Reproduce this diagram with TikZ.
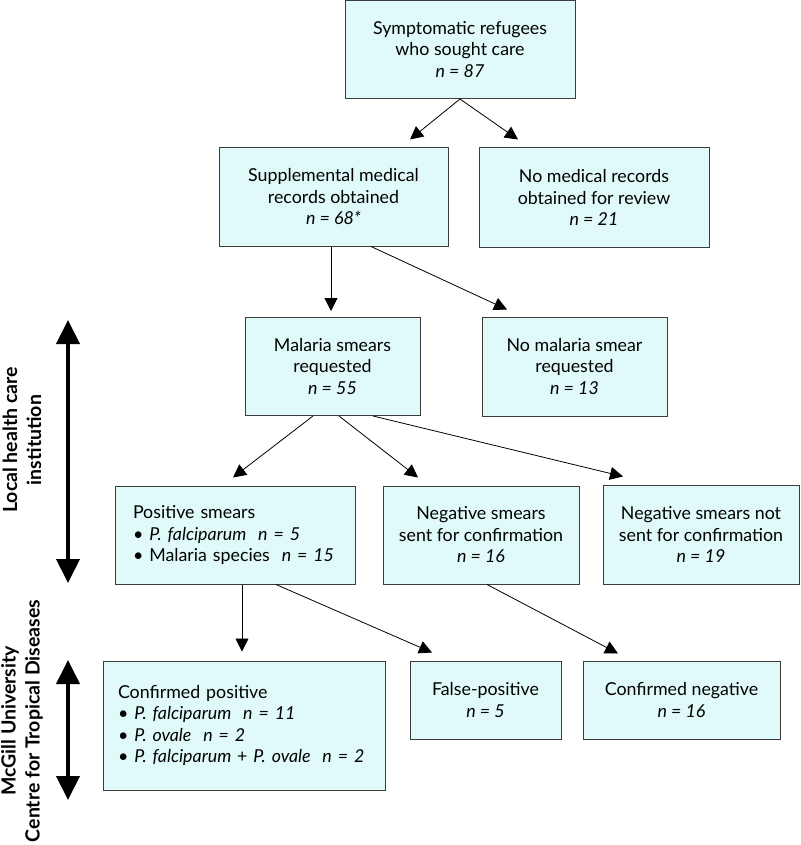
\documentclass[tikz,border=0pt]{standalone}
\usepackage{fontspec}
\setmainfont{Lato}
\usetikzlibrary{arrows.meta}
\definecolor{boxfill}{RGB}{224,250,250}
\definecolor{boxline}{RGB}{60,60,60}
\tikzset{
  box/.style={draw=boxline, fill=boxfill, line width=1pt, align=center, inner sep=0pt,
    font=\fontsize{17.8}{21.5}\selectfont},
  lbox/.style={box, align=left},
  arr/.style={-{Triangle[length=13pt,width=13pt]}, line width=0.8pt, black},
  dbl/.style={{Triangle[length=24pt,width=23pt]}-{Triangle[length=24pt,width=23pt]}, line width=4pt, black},
  side/.style={rotate=90, align=center, font=\fontsize{19.5}{24}\selectfont\bfseries}
}
\newcommand{\nn}[1]{\textit{n~=~#1}}
\begin{document}
\begin{tikzpicture}[x=1pt,y=-1pt]
\useasboundingbox[fill=white] (0,0) rectangle (800,845);

\node[box, minimum width=230pt, minimum height=98pt] (top) at (460,49.5) {Symptomatic refugees\\who sought care\\\nn{87}};
\node[box, minimum width=229pt, minimum height=98pt] (sup) at (333.5,197) {Supplemental medical\\records obtained\\\nn{68*}};
\node[box, minimum width=230pt, minimum height=99pt] (nomed) at (594,197.5) {No medical records\\obtained for review\\\nn{21}};
\node[box, minimum width=175pt, minimum height=98pt] (smears) at (332.5,366.5) {Malaria smears\\requested\\\nn{55}};
\node[box, minimum width=185pt, minimum height=99pt] (nosmear) at (574.5,366.5) {No malaria smear\\requested\\\nn{13}};
\node[lbox, text width=204pt, inner xsep=18pt, minimum height=98pt] (pos) at (235,535) {Positive smears\\\textbullet~\textit{P.~falciparum}~~\nn{5}\\\textbullet~Malaria~species~~\nn{15}};
\node[box, minimum width=196pt, minimum height=98pt] (negsent) at (481,535) {Negative smears\\sent for confirmation\\\nn{16}};
\node[box, minimum width=196pt, minimum height=99pt] (negnot) at (701,534.5) {Negative smears not\\sent for confirmation\\\nn{19}};
\node[lbox, text width=252pt, inner xsep=15pt, minimum height=129pt] (confpos) at (244,725.5) {Confirmed positive\\\textbullet~\textit{P.~falciparum}~~\nn{11}\\\textbullet~\textit{P.~ovale}~~\nn{2}\\\textbullet~\textit{P.~falciparum}~+~\textit{P.~ovale}~~\nn{2}};
\node[box, minimum width=151pt, minimum height=78pt] (falsepos) at (485.5,700) {False-positive\\\nn{5}};
\node[box, minimum width=197pt, minimum height=78pt] (confneg) at (681.5,700) {Confirmed negative\\\nn{16}};

\draw[arr] (top.south) -- ([xshift=76.5pt,yshift=8pt]sup.north);
\draw[arr] (top.south) -- ([xshift=-76pt,yshift=8pt]nomed.north);
\draw[arr] ([xshift=-2.5pt]sup.south) -- ([xshift=-1.5pt,yshift=6pt]smears.north);
\draw[arr] ([xshift=37.5pt]sup.south) -- ([xshift=-67.5pt,yshift=7pt]nosmear.north);
\draw[arr] ([xshift=-19.5pt]smears.south) -- ([xshift=-2pt,yshift=8pt]pos.north);
\draw[arr] ([xshift=6.5pt]smears.south) -- ([xshift=-63pt,yshift=8pt]negsent.north);
\draw[arr] ([xshift=40.5pt]smears.south) -- ([xshift=-78pt,yshift=8pt]negnot.north);
\draw[arr] ([xshift=7pt]pos.south) -- ([xshift=-2pt,yshift=9pt]confpos.north);
\draw[arr] ([xshift=41pt]pos.south) -- ([xshift=-53.5pt,yshift=8pt]falsepos.north);
\draw[arr] ([xshift=6pt]negsent.south) -- ([xshift=-63.5pt,yshift=7pt]confneg.north);

\coordinate (l1t) at (68,320);
\coordinate (l1b) at (68,583);
\coordinate (l2t) at (68,660);
\coordinate (l2b) at (68,800);
\draw[dbl] (l1t) -- (l1b);
\draw[dbl] (l2t) -- (l2b);
\node[side] (lab1) at (22,440) {Local health care\\institution};
\node[side] (lab2) at (22,721) {McGill University\\Centre for Tropical Diseases};
\end{tikzpicture}
\end{document}
